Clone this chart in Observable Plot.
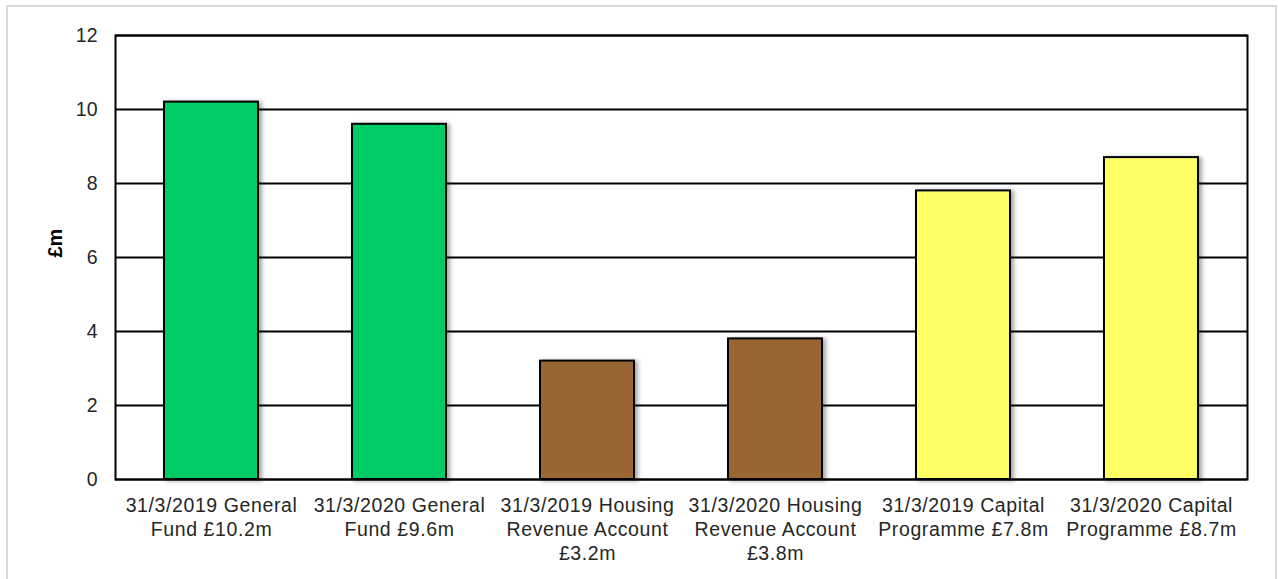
<!DOCTYPE html>
<html>
<head>
<meta charset="utf-8">
<script src="https://cdn.jsdelivr.net/npm/d3@7"></script>
<script src="https://cdn.jsdelivr.net/npm/@observablehq/plot@0.6"></script>
<style>
  html, body { margin: 0; padding: 0; background: #fff; }
  #wrap { position: relative; width: 1278px; height: 579px; overflow: hidden; }
  #border { position: absolute; left: 6px; top: 5px; width: 1271px; height: 600px; border: 2px solid #d9d9d9; box-sizing: border-box; pointer-events: none; }
  svg { font-family: "Liberation Sans", Arial, sans-serif; }
  .bars rect { filter: drop-shadow(3px 1px 2px rgba(0,0,0,0.35)); }
  .xlabels text { letter-spacing: 0.6px; }
</style>
</head>
<body>
<div id="wrap"><div id="chart"></div><div id="border"></div></div>
<script>
const categories = ["GF2019", "GF2020", "HRA2019", "HRA2020", "CP2019", "CP2020"];
const labels = [
  "31/3/2019 General\nFund £10.2m",
  "31/3/2020 General\nFund £9.6m",
  "31/3/2019 Housing\nRevenue Account\n£3.2m",
  "31/3/2020 Housing\nRevenue Account\n£3.8m",
  "31/3/2019 Capital\nProgramme £7.8m",
  "31/3/2020 Capital\nProgramme £8.7m"
];
const values = [10.2, 9.6, 3.2, 3.8, 7.8, 8.7];
const colors = ["#00CC66", "#00CC66", "#996633", "#996633", "#FFFF66", "#FFFF66"];
const yTicks = [0, 2, 4, 6, 8, 10, 12];

const data = categories.map((c, i) => ({cat: c, label: labels[i], value: values[i], color: colors[i]}));

const chart = Plot.plot({
  width: 1278,
  height: 579,
  marginLeft: 115,
  marginRight: 31,
  marginTop: 35,
  marginBottom: 100,
  style: {fontFamily: "Liberation Sans, Arial, sans-serif", fontSize: "19px", color: "#262626", background: "transparent"},
  x: {domain: categories, paddingInner: 0.5, paddingOuter: 0.25, axis: null},
  y: {domain: [0, 12], ticks: yTicks, label: null, tickSize: 0, tickPadding: 18},
  marks: [
    Plot.gridY(yTicks, {stroke: "#000", strokeOpacity: 1, strokeWidth: 2}),
    Plot.barY(data, {x: "cat", y: "value", fill: "color", stroke: "#000", strokeWidth: 2, className: "bars"}),
    Plot.frame({stroke: "#000", strokeWidth: 2}),
    Plot.axisY(yTicks, {tickSize: 0, tickPadding: 18, fontSize: 19.5, label: null, fill: "#262626"}),
    Plot.text(data, {x: "cat", y: 0, text: "label", lineAnchor: "top", dy: 15, lineHeight: 1.24, fontSize: 19.5, fill: "#262626", className: "xlabels"}),
    Plot.text(["£m"], {frameAnchor: "left", text: d => d, dx: -60, rotate: -90, fontWeight: "bold", fontSize: 20, fill: "#000"})
  ]
});
document.getElementById("chart").appendChild(chart);
</script>
</body>
</html>
